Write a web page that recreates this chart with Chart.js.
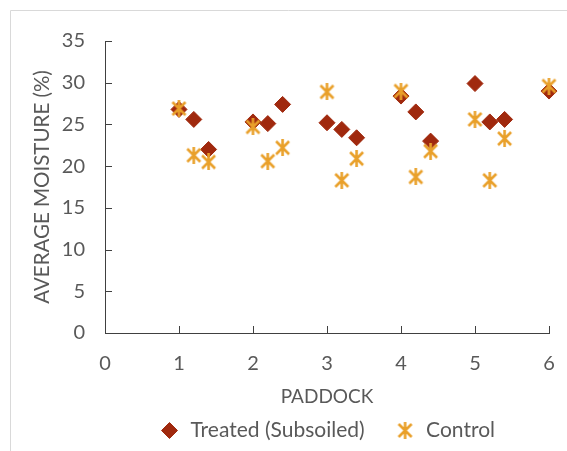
<!DOCTYPE html>
<html>
<head>
<meta charset="utf-8">
<script src="https://cdn.jsdelivr.net/npm/chart.js@4.4.1/dist/chart.umd.min.js"></script>
<style>
  html, body { margin: 0; padding: 0; background: #fff; }
  #wrap { width: 567px; height: 451px; position: relative; }
</style>
</head>
<body>
<div id="wrap"><canvas id="chart"></canvas></div>
<script>
// paddock positions (sites spread round each paddock number)
const paddocks = [1, 1.2, 1.4, 2, 2.2, 2.4, 3, 3.2, 3.4, 4, 4.2, 4.4, 5, 5.2, 5.4, 6];
const treated = [26.8, 25.6, 22.0, 25.3, 25.1, 27.4, 25.2, 24.4, 23.4, 28.4, 26.5, 23.0, 29.9, 25.3, 25.6, 29.0];
const control = [26.9, 21.3, 20.5, 24.7, 20.6, 22.2, 28.9, 18.3, 20.9, 29.0, 18.7, 21.8, 25.6, 18.3, 23.3, 29.6];
const xTicks = [0, 1, 2, 3, 4, 5, 6];
const yTicks = [0, 5, 10, 15, 20, 25, 30, 35];

const RED = "#A0290E";
const ORANGE = "#E9A02A";
const GREY = "#595959";
const FONT = "Lato, 'Open Sans', sans-serif";
const PLOT_BOTTOM = 333;
const LEGEND_FONT = 21;
const LEGEND_PAD = 30;
// chart.js legend height for one row: item height + padding + 10
const LEGEND_H = LEGEND_FONT + LEGEND_PAD + 10;

// excel style asterisk marker: an X with a vertical bar
const makeStar = (size, color) => {
  const c = document.createElement("canvas");
  c.width = size;
  c.height = size;
  const g = c.getContext("2d");
  const m = 2;
  g.strokeStyle = color;
  g.lineWidth = 2.6;
  g.beginPath();
  g.moveTo(m, m); g.lineTo(size - m, size - m);
  g.moveTo(size - m, m); g.lineTo(m, size - m);
  g.moveTo(size / 2, 0); g.lineTo(size / 2, size);
  g.stroke();
  return c;
};
const star = makeStar(17, ORANGE);

const toPoints = (ys) => paddocks.map((x, i) => ({ x: x, y: ys[i] }));

// ticks that sit inside the plot, plus the frame round the picture
const decor = {
  id: "decor",
  beforeDraw(chart) {
    const ctx = chart.ctx;
    ctx.save();
    ctx.strokeStyle = "#D9D9D9";
    ctx.lineWidth = 1;
    ctx.beginPath();
    ctx.moveTo(10.5, chart.height);
    ctx.lineTo(10.5, 10.5);
    ctx.lineTo(chart.width, 10.5);
    ctx.stroke();
    ctx.restore();
  },
  beforeDatasetsDraw(chart) {
    const ctx = chart.ctx;
    const xs = chart.scales.x, ys = chart.scales.y;
    const area = chart.chartArea;
    ctx.save();
    ctx.strokeStyle = "#404040";
    ctx.lineWidth = 1;
    ctx.beginPath();
    xTicks.forEach((v) => {
      if (v === 0) return;
      const px = Math.round(xs.getPixelForValue(v)) + 0.5;
      ctx.moveTo(px, area.bottom);
      ctx.lineTo(px, area.bottom - 7);
    });
    yTicks.forEach((v) => {
      if (v === 0) return;
      const py = Math.round(ys.getPixelForValue(v)) + 0.5;
      ctx.moveTo(area.left, py);
      ctx.lineTo(area.left + 7, py);
    });
    ctx.stroke();
    ctx.restore();
  },
};

new Chart(document.getElementById("chart"), {
  type: "scatter",
  data: {
    datasets: [
      {
        label: "Treated (Subsoiled)",
        data: toPoints(treated),
        pointStyle: "rectRot",
        pointRadius: 8,
        pointHoverRadius: 8,
        backgroundColor: RED,
        borderColor: RED,
        borderWidth: 1,
        clip: false,
        order: 1,
      },
      {
        label: "Control",
        data: toPoints(control),
        pointStyle: star,
        backgroundColor: ORANGE,
        borderColor: ORANGE,
        clip: false,
        order: 0, // stars sit on top of the diamonds
      },
    ],
  },
  options: {
    responsive: true,
    maintainAspectRatio: false,
    animation: false,
    layout: { padding: { left: 14, right: 18, top: 41, bottom: 0 } },
    plugins: {
      tooltip: { enabled: false },
      legend: {
        position: "bottom",
        fullSize: false,
        labels: {
          usePointStyle: true,
          boxHeight: 11.3,
          color: GREY,
          padding: LEGEND_PAD,
          font: { family: FONT, size: LEGEND_FONT },
          sort: (a, b) => a.datasetIndex - b.datasetIndex,
        },
      },
    },
    scales: {
      x: {
        type: "linear",
        min: 0,
        max: 6,
        afterBuildTicks: (s) => { s.ticks = xTicks.map((v) => ({ value: v })); },
        afterFit: (s) => {
          s.height = 451 - LEGEND_H - PLOT_BOTTOM;
          s.paddingRight = 0; // the "6" label may overhang into the layout padding
        },
        grid: { display: false, drawTicks: false },
        border: { display: true, color: "#404040", width: 1 },
        ticks: { color: GREY, padding: 19, font: { family: FONT, size: 20 } },
        title: {
          display: true,
          text: "PADDOCK",
          color: GREY,
          padding: { top: 0, bottom: -18.4 },
          font: { family: FONT, size: 19 },
        },
      },
      y: {
        min: 0,
        max: 35,
        afterBuildTicks: (s) => { s.ticks = yTicks.map((v) => ({ value: v })); },
        afterFit: (s) => { s.width = 91; },
        grid: { display: false, drawTicks: false },
        border: { display: true, color: "#404040", width: 1 },
        ticks: { color: GREY, padding: 20, font: { family: FONT, size: 20 } },
        title: {
          display: true,
          text: "AVERAGE MOISTURE (%)",
          color: GREY,
          padding: { top: 16, bottom: 0 },
          font: { family: FONT, size: 20.5 },
        },
      },
    },
  },
  plugins: [decor],
});
</script>
</body>
</html>
